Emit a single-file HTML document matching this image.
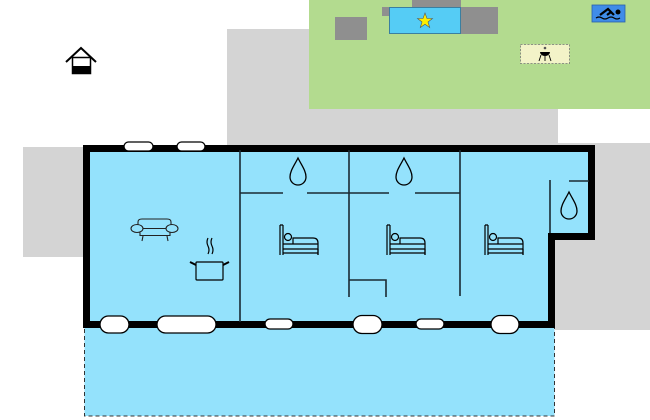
<!DOCTYPE html>
<html><head><style>html,body{margin:0;padding:0;background:#fff;width:650px;height:420px;overflow:hidden}</style></head>
<body>
<svg width="650" height="420" viewBox="0 0 650 420" xmlns="http://www.w3.org/2000/svg">
<rect x="227" y="29" width="331" height="118" fill="#d4d4d4"/>
<rect x="23" y="147" width="64" height="110" fill="#d4d4d4"/>
<rect x="555" y="143" width="95" height="187" fill="#d4d4d4"/>
<rect x="309" y="0" width="341" height="109" fill="#b3db8f"/>
<rect x="335" y="17" width="32" height="23" fill="#8f8f8f"/>
<rect x="382" y="7" width="10" height="9" fill="#8f8f8f"/>
<rect x="412" y="0" width="49" height="8" fill="#8f8f8f"/>
<rect x="461" y="7" width="37" height="27" fill="#8f8f8f"/>
<rect x="389.5" y="7.5" width="71" height="26" fill="#55ccf5" stroke="#3a7fa0" stroke-width="1"/>
<polygon points="425,13 427,18.5 432.5,18.5 428,22 429.7,27.5 425,24.2 420.3,27.5 422,22 417.5,18.5 423,18.5" fill="#ffee00" stroke="#555" stroke-width="0.6"/>
<rect x="592" y="5" width="33" height="17" fill="#3f8ce8" stroke="#2a5fa8" stroke-width="0.8"/>
<circle cx="618" cy="12" r="2.5" fill="#000"/>
<path d="M600 15 L608 9 L611 12 L607 15 M608 9 L614 15" stroke="#000" stroke-width="2.2" fill="none"/>
<path d="M596 18 q3 -2 6 0 t6 0 t6 0 t6 0" stroke="#000" stroke-width="1.2" fill="none"/>
<rect x="520.5" y="44.5" width="49" height="19" fill="#f3f3c8" stroke="#777" stroke-width="0.8" stroke-dasharray="2,1.5"/>
<circle cx="545" cy="48" r="1.3" fill="#555"/>
<path d="M540 52 h10 a5 4 0 0 1 -10 0z" fill="#000"/>
<path d="M541 55 l-2 6 M549 55 l2 6 M545 56 v5" stroke="#000" stroke-width="0.9"/>
<path d="M66 62 L81 48 L96 62" stroke="#000" stroke-width="2" fill="none"/>
<rect x="72.5" y="57.5" width="18" height="16" fill="#fff" stroke="#000" stroke-width="1.5"/>
<rect x="72" y="66" width="19" height="8" fill="#000"/>
<rect x="84.5" y="326" width="470" height="90" fill="#94e2fc" stroke="#333" stroke-width="1" stroke-dasharray="4,3"/>
<path d="M86.5 148.5 H591.5 V236.5 H551.5 V324.5 H86.5 Z" fill="#94e2fc" stroke="#000" stroke-width="7"/>
<g stroke="#1a2a33" stroke-width="1.6" fill="none">
<path d="M240 150 V322"/>
<path d="M349 150 V297"/>
<path d="M460 150 V296"/>
<path d="M240 193 H283 M307 193 H389 M415 193 H460"/>
<path d="M349 280 H386 V297"/>
<path d="M550 180 V233 M569 181 H589"/>
</g>
<g fill="#fff" stroke="#000" stroke-width="1.3">
<rect x="124" y="142" width="29" height="9" rx="4.5"/>
<rect x="177" y="142" width="28" height="9" rx="4.5"/>
<rect x="100" y="316" width="29" height="17" rx="8.5"/>
<rect x="157" y="316" width="59" height="17" rx="8.5"/>
<rect x="265" y="319" width="28" height="10" rx="5"/>
<rect x="353" y="315.5" width="29" height="18" rx="9"/>
<rect x="416" y="319" width="28" height="10" rx="5"/>
<rect x="491" y="315.5" width="28" height="18" rx="9"/>
</g>
<g fill="none" stroke="#000" stroke-width="1.3">
<path d="M298 158 C302 166 306 171 306 177 A8 8 0 0 1 290 177 C290 171 294 166 298 158 Z"/>
<path d="M404 158 C408 166 412 171 412 177 A8 8 0 0 1 396 177 C396 171 400 166 404 158 Z"/>
<path d="M569 192 C573 200 577 205 577 211 A8 8 0 0 1 561 211 C561 205 565 200 569 192 Z"/>
</g>
<g fill="none" stroke="#222" stroke-width="1.1">
<path d="M138 225 v-3 q0 -3 4 -3 h25 q4 0 4 3 v3"/>
<ellipse cx="137" cy="228.5" rx="6" ry="4"/>
<ellipse cx="172" cy="228.5" rx="6" ry="4"/>
<path d="M143 228.5 h23 M140 232.5 v3 h30 v-3"/>
<path d="M143 236 l-1 5 M167 236 l1 5"/>
</g>
<g fill="none" stroke="#000" stroke-width="1.2">
<rect x="196" y="262" width="27" height="18" rx="1"/>
<path d="M196 265 l-6 -3 M223 265 l6 -3" stroke-width="2"/>
<path d="M208 238 q-2 4 0 8 t0 8 M212 238 q-2 4 0 8 t0 8"/>
</g>
<g fill="none" stroke="#000" stroke-width="1.2" id="bed">
<path d="M280 225 V255 M283 225 V255 M280 225 h3"/>
<circle cx="288" cy="237" r="3.5"/>
<path d="M283 244 h35 M283 249 h35 M283 253 h35 V255 M318 255 V243 q0 -5 -5 -5 h-20 v6"/>
<path d="M318 249 v6"/>
</g>
<use href="#bed" x="107"/>
<use href="#bed" x="205"/>
</svg>
</body></html>
